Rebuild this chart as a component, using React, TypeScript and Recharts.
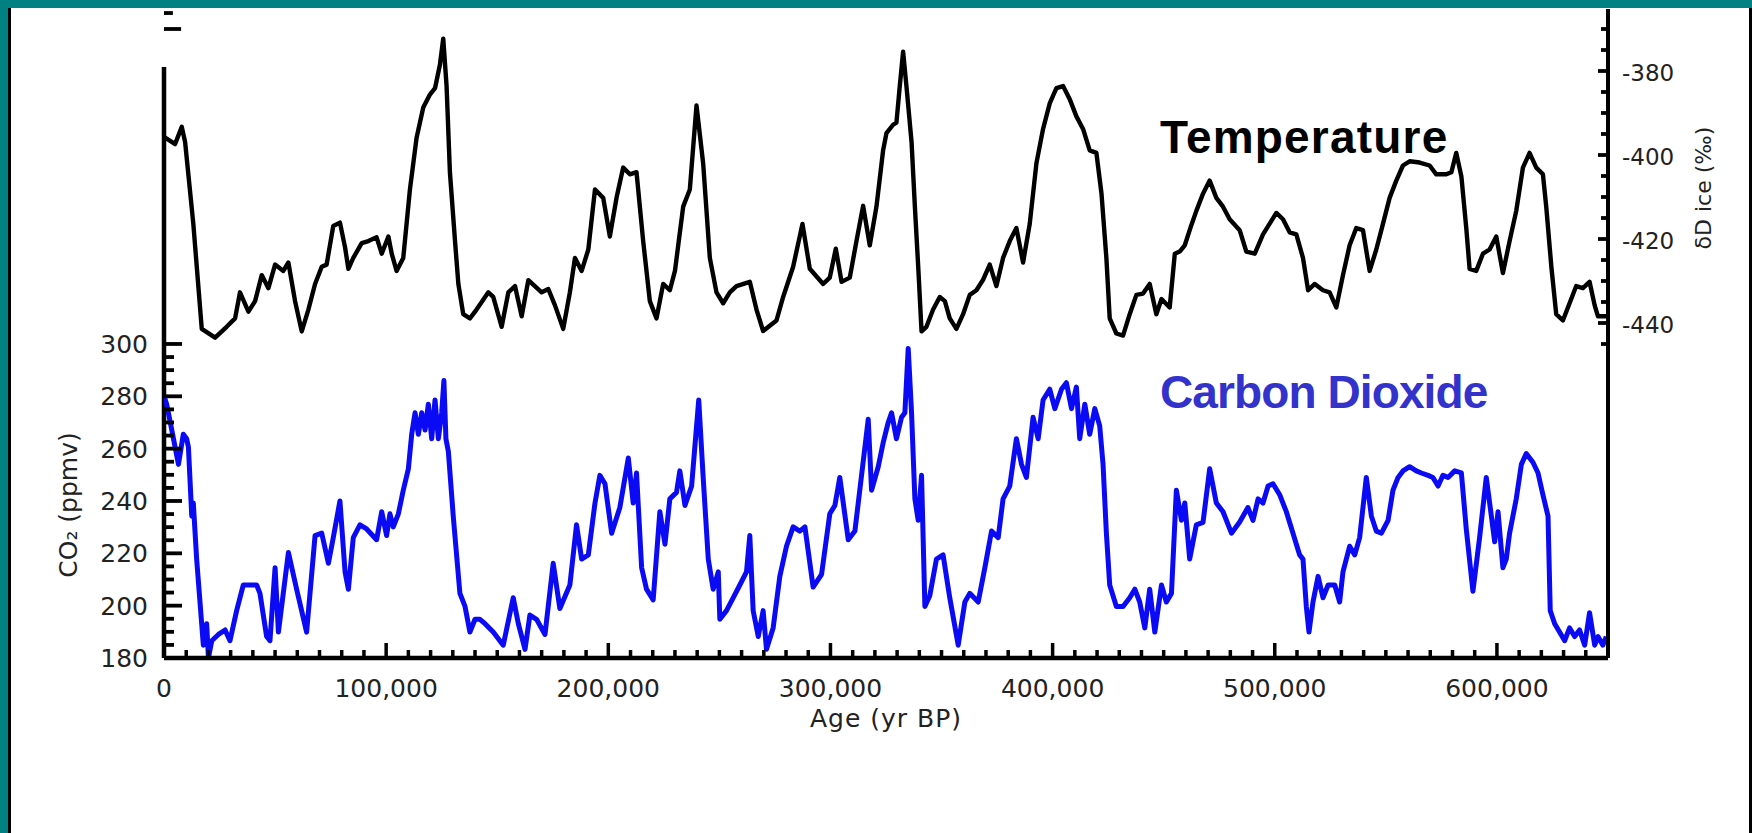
import { LineChart, Line, XAxis, YAxis, ReferenceLine } from 'recharts';

// δD of ice (temperature proxy)
const tempAge = [
	0, 5000, 8000, 9500, 13200, 17000, 23000, 28200, 32000, 34200, 38000, 41000, 44000, 47000, 50000,
	53700, 56000, 59000, 62000, 65000, 68000, 71000, 73200, 76200, 79200, 81500, 83000, 85200, 89000,
	92000, 95700, 98000, 101000, 102500, 104700, 107700, 110700, 113700, 116700, 119700, 122000, 124200,
	125700, 127200, 128700, 131000, 132500, 134700, 137700, 140700, 146000, 148200, 152000, 155000,
	158000, 161000, 164000, 170000, 173000, 176000, 179700, 182700, 185000, 188000, 191000, 194000,
	197700, 200700, 203700, 206700, 209700, 212700, 215700, 218700, 221700, 224700, 227700, 230000,
	233700, 236700, 239700, 242700, 245700, 248700, 251700, 254700, 257700, 263700, 266700, 269700,
	275700, 278700, 283200, 287400, 290700, 296700, 299700, 302400, 305000, 308700, 311700, 314700,
	317700, 320700, 323700, 325200, 328200, 329700, 331200, 332700, 334200, 336500, 338000, 339500,
	341000, 343200, 346200, 349200, 351500, 353700, 356700, 359700, 362700, 365700, 368700, 371700,
	374700, 377700, 380700, 383700, 386700, 389700, 392700, 395700, 398700, 401700, 404700, 407700,
	410700, 413700, 416700, 419700, 422000, 424200, 425700, 428700, 431700, 434700, 437700, 440700,
	443700, 446700, 449000, 452700, 455000, 457200, 459500, 462000, 464700, 467700, 470700, 473700,
	476700, 479700, 484200, 487200, 491000, 494700, 500700, 503700, 506700, 509700, 512700, 515000,
	518000, 521700, 524700, 527700, 530700, 533700, 536700, 539700, 542700, 545700, 548700, 551700,
	554700, 557700, 560700, 565200, 569700, 572700, 577200, 579500, 581700, 584000, 586200, 587700,
	590700, 593700, 596700, 599700, 602700, 605700, 608700, 611700, 614700, 617700, 620700, 622200,
	624500, 626700, 629700, 632700, 635700, 638700, 641700, 644000, 645500, 649200,
];
const tempDelta = [
	-395.7, -397.4, -393.3, -396.9, -416.4, -441.4, -443.5, -440.9, -438.9, -432.7, -437.3, -434.8,
	-428.6, -431.7, -426.1, -427.6, -425.6, -434.8, -442.0, -436.8, -430.7, -426.6, -426.1, -416.9,
	-416.1, -422.0, -427.1, -424.5, -421.0, -420.5, -419.6, -423.5, -419.4, -423.5, -427.6, -424.5,
	-408.2, -395.9, -388.7, -385.6, -384.1, -378.5, -372.3, -383.6, -404.1, -420.5, -430.7, -437.9,
	-438.9, -436.8, -432.7, -433.8, -440.9, -432.7, -431.2, -438.4, -429.8, -432.7, -431.9, -435.8,
	-441.4, -432.7, -424.5, -427.6, -422.5, -408.2, -410.2, -419.4, -410.2, -403.0, -404.6, -404.1,
	-420.5, -434.8, -438.9, -430.7, -432.2, -427.6, -412.3, -408.2, -388.2, -402.0, -424.5, -432.7,
	-435.3, -432.7, -431.2, -430.2, -436.8, -441.9, -439.4, -433.8, -426.6, -416.4, -427.1, -430.7,
	-429.2, -422.3, -430.2, -429.2, -420.5, -412.1, -421.5, -412.3, -398.9, -394.8, -392.8, -392.3,
	-383.6, -375.4, -383.6, -396.9, -412.3, -426.6, -442.0, -440.9, -436.8, -433.8, -434.8, -438.9,
	-441.4, -437.9, -433.3, -432.2, -429.7, -426.1, -431.2, -424.5, -420.5, -417.4, -425.6, -416.4,
	-402.0, -393.8, -387.7, -384.1, -383.6, -386.7, -390.8, -393.8, -398.9, -399.5, -409.2, -424.5,
	-438.9, -442.5, -443.0, -437.9, -433.3, -433.0, -430.7, -437.9, -434.3, -436.3, -423.5, -423.0,
	-421.5, -417.4, -413.3, -409.2, -406.1, -410.2, -412.3, -415.3, -417.9, -423.0, -423.5, -418.9,
	-413.8, -415.3, -418.4, -418.9, -424.5, -432.2, -430.7, -432.2, -432.7, -436.3, -428.6, -421.5,
	-417.4, -417.9, -427.6, -422.5, -416.4, -410.2, -406.1, -402.5, -401.5, -401.8, -402.5, -404.6,
	-404.6, -404.1, -399.5, -405.1, -417.4, -427.1, -427.6, -423.5, -422.5, -419.4, -428.1, -420.5,
	-413.3, -403.0, -399.5, -403.0, -404.6, -412.3, -426.6, -437.9, -439.4, -435.3, -431.2, -431.7,
	-430.2, -435.8, -438.4, -438.4,
];

// CO2 (ppmv)
const co2Age = [
	0, 1200, 3500, 6500, 8700, 10200, 11000, 12500, 13200, 14700, 16200, 17700, 19200, 20000, 21500,
	24500, 27500, 29700, 32700, 35700, 41700, 43200, 46200, 47700, 50000, 51500, 56000, 59700, 64200,
	68000, 71000, 74000, 76200, 79200, 81500, 83000, 85200, 88200, 91200, 95700, 98000, 100200, 101700,
	103200, 105500, 107700, 110000, 111500, 113000, 114500, 116000, 117500, 119000, 120500, 122000,
	123500, 125000, 126000, 126900, 128000, 130200, 133200, 135500, 137700, 140000, 142200, 144500,
	148200, 152700, 157200, 159500, 162500, 164700, 167700, 171500, 175200, 178200, 182700, 185700,
	188000, 191000, 194000, 196200, 198500, 201500, 205200, 209000, 211200, 212700, 215000, 217200,
	220200, 223200, 225500, 227700, 230700, 232200, 234500, 237500, 240700, 242700, 245000, 247200,
	249500, 250200, 253200, 256200, 259200, 262200, 263700, 265200, 267500, 269700, 271200, 274200,
	277200, 280200, 283200, 286200, 288500, 292200, 296000, 299700, 302000, 304200, 308000, 311000,
	314700, 317000, 318500, 321500, 323700, 326000, 327500, 329700, 332000, 333500, 335000, 336500,
	338000, 339500, 341000, 342500, 344700, 347700, 350700, 353700, 357500, 360500, 362700, 366500,
	369500, 372500, 375500, 377700, 380700, 383700, 386000, 388200, 391200, 393500, 395700, 398700,
	401000, 404000, 406200, 408500, 410700, 412200, 414500, 416700, 419000, 421200, 422700, 424200,
	425700, 428700, 431700, 434700, 437000, 439200, 441500, 443700, 446000, 449000, 451200, 453500,
	455700, 458000, 459500, 461700, 464700, 467700, 470700, 473700, 476700, 480500, 484200, 487900,
	490200, 492500, 494700, 497000, 499200, 502200, 505200, 508200, 511200, 512700, 514200, 515400,
	517200, 519500, 521700, 524000, 527000, 529200, 530700, 533700, 536000, 538200, 541200, 543500,
	545700, 548000, 551000, 553200, 555500, 557700, 560700, 563700, 566000, 569000, 571200, 573500,
	575700, 578000, 581000, 584000, 586200, 589200, 592200, 595200, 597500, 599000, 600500, 602700,
	604200, 605700, 608700, 611000, 613200, 616200, 618500, 620700, 623000, 624000, 626000, 628200,
	630500, 632700, 635000, 637200, 639500, 641700, 644000, 645500, 647700, 649200,
];
const co2Ppmv = [
	280.2, 277.0, 267.1, 254.0, 265.5, 263.8, 260.5, 234.2, 239.2, 217.8, 201.4, 184.9, 193.1, 180.0,
	186.6, 189.0, 190.7, 186.6, 198.1, 207.9, 207.9, 204.7, 188.2, 186.6, 214.5, 189.9, 220.3, 206.3,
	189.9, 226.8, 227.7, 216.2, 226.0, 240.0, 212.9, 206.3, 226.0, 230.9, 229.3, 225.2, 235.9, 226.8,
	235.1, 230.1, 235.1, 244.1, 252.3, 265.5, 273.7, 265.5, 273.7, 267.1, 277.0, 263.8, 278.6, 263.8,
	273.7, 286.0, 263.8, 258.9, 234.2, 204.7, 199.7, 189.9, 194.8, 194.8, 193.1, 189.9, 184.9, 203.0,
	193.1, 183.3, 196.4, 194.8, 189.0, 216.2, 198.9, 207.9, 230.9, 217.8, 219.4, 239.2, 249.8, 246.6,
	227.7, 237.5, 256.4, 239.2, 250.7, 214.5, 206.3, 202.2, 235.9, 223.5, 240.8, 243.3, 251.5, 238.3,
	245.7, 278.6, 249.0, 217.8, 206.3, 212.9, 194.8, 198.1, 203.0, 207.9, 212.9, 226.8, 198.1, 188.2,
	198.1, 183.3, 191.5, 211.2, 222.7, 230.1, 228.5, 230.1, 207.1, 212.0, 235.1, 238.3, 249.0, 225.2,
	228.5, 254.8, 271.2, 244.1, 253.1, 262.2, 270.0, 273.7, 263.8, 272.0, 273.7, 298.3, 273.7, 240.8,
	232.6, 249.8, 199.7, 203.8, 217.8, 219.4, 203.0, 184.9, 201.4, 204.7, 201.4, 214.5, 228.5, 226.0,
	240.8, 245.7, 263.8, 254.0, 249.0, 272.0, 263.8, 278.6, 282.7, 275.3, 282.7, 285.2, 275.3, 283.5,
	263.8, 277.0, 265.5, 275.3, 268.7, 254.0, 227.7, 207.9, 199.7, 199.7, 203.0, 206.3, 201.4, 191.5,
	206.3, 189.9, 207.9, 201.4, 204.7, 244.1, 232.6, 239.2, 217.8, 230.9, 231.8, 252.3, 239.2, 235.9,
	227.7, 232.0, 237.5, 232.6, 240.8, 239.2, 245.7, 246.6, 242.4, 235.9, 227.7, 219.4, 217.8, 199.7,
	189.9, 201.4, 211.2, 203.0, 207.9, 207.9, 201.4, 212.9, 222.7, 219.4, 226.0, 249.0, 234.2, 228.5,
	227.7, 232.6, 244.1, 249.0, 251.5, 253.1, 251.5, 250.7, 249.8, 249.0, 245.7, 249.8, 249.0, 251.5,
	250.7, 229.3, 205.5, 226.0, 249.0, 234.2, 224.4, 235.9, 214.5, 217.8, 227.7, 240.8, 254.0, 258.1,
	254.8, 250.7, 242.4, 234.2, 198.1, 193.1, 189.9, 186.6, 191.5, 188.2, 190.7, 184.9, 197.3, 184.9,
	188.2, 184.9, 188.2,
];

const xMajorTicks = [0, 100000, 200000, 300000, 400000, 500000, 600000];
const co2Labels = [180, 200, 220, 240, 260, 280, 300];
const deltaLabels = [-440, -420, -400, -380];

const tempData = tempAge.map((age, i) => ({ age, delta: tempDelta[i] }));
const co2Data = co2Age.map((age, i) => ({ age, co2: co2Ppmv[i] }));

// minor ticks: every 10,000 yr and every 5 units
const xTicks: number[] = [];
for (let v = 0; v <= 640000; v += 10000) xTicks.push(v);
const co2Ticks: number[] = [];
for (let v = 180; v <= 300; v += 5) co2Ticks.push(v);
const deltaTicks: number[] = [];
for (let v = -445; v <= -370; v += 5) deltaTicks.push(v);

const labelFont = { fontFamily: 'DejaVu Sans', fill: '#222' };

function renderAgeTick(props: any) {
	const { x, y, payload } = props;
	const major = xMajorTicks.includes(payload.value);
	return (
		<g>
			<line x1={x} x2={x} y1={y} y2={y - (major ? 15 : 8)} stroke="#000" strokeWidth={3.5} />
			{major && (
				<text x={x} y={y + 39} textAnchor="middle" fontSize={25} {...labelFont}>
					{payload.value.toLocaleString('en-US')}
				</text>
			)}
		</g>
	);
}

function renderCo2Tick(props: any) {
	const { x, y, payload } = props;
	const major = co2Labels.includes(payload.value);
	return (
		<g>
			<line x1={x} x2={x + (major ? 18 : 10)} y1={y} y2={y} stroke="#000" strokeWidth={3.8} />
			{major && (
				<text x={x - 16} y={y + 9} textAnchor="end" fontSize={25} {...labelFont}>
					{payload.value}
				</text>
			)}
		</g>
	);
}

function renderDeltaTick(props: any) {
	const { x, y, payload } = props;
	const major = deltaLabels.includes(payload.value);
	return (
		<g>
			<line x1={x} x2={x - (major ? 10 : 7)} y1={y} y2={y} stroke="#000" strokeWidth={3.8} />
			{major && (
				<text x={x + 14} y={y + 10} textAnchor="start" fontSize={23} {...labelFont}>
					{'-' + Math.abs(payload.value)}
				</text>
			)}
		</g>
	);
}

export default function App() {
	return (
		<div
			style={{
				position: 'absolute',
				left: 0,
				top: 0,
				width: 1752,
				height: 833,
				background: '#008080',
				overflow: 'hidden',
			}}
		>
			<div
				style={{
					position: 'absolute',
					left: 8,
					top: 8,
					width: 1744,
					height: 825,
					background: '#fff',
					borderLeft: '3px solid #000',
					borderRight: '3px solid #000',
					boxSizing: 'border-box',
				}}
			/>
			<div style={{ position: 'absolute', left: 0, top: 0 }}>
				<LineChart width={1752} height={833} margin={{ top: 9, right: 0, left: 14, bottom: 75 }}>
					<XAxis
						type="number"
						dataKey="age"
						domain={[0, 650000]}
						allowDataOverflow
						ticks={xTicks}
						interval={0}
						tickSize={0}
						tickMargin={0}
						tickLine={false}
						axisLine={{ stroke: '#000', strokeWidth: 4.5 }}
						tick={renderAgeTick}
						height={100}
					/>
					<YAxis
						yAxisId="co2"
						orientation="left"
						type="number"
						domain={[180, 428]}
						allowDataOverflow
						ticks={co2Ticks}
						interval={0}
						tickSize={0}
						tickMargin={0}
						tickLine={false}
						axisLine={false}
						tick={renderCo2Tick}
						width={150}
					/>
					<YAxis
						yAxisId="temp"
						orientation="right"
						type="number"
						domain={[-519.76, -365.24]}
						allowDataOverflow
						ticks={deltaTicks}
						interval={0}
						tickSize={0}
						tickMargin={0}
						tickLine={false}
						axisLine={{ stroke: '#000', strokeWidth: 4 }}
						tick={renderDeltaTick}
						width={144}
					/>
					{/* left axis spine only runs up to the cropped panel edge */}
					<ReferenceLine
						yAxisId="co2"
						segment={[
							{ x: 0, y: 180 },
							{ x: 0, y: 405.8 },
						]}
						stroke="#000"
						strokeWidth={4.5}
					/>
					{/* leftover ticks of the upper panel */}
					<ReferenceLine
						yAxisId="temp"
						segment={[
							{ x: 0, y: -366.2 },
							{ x: 4000, y: -366.2 },
						]}
						stroke="#000"
						strokeWidth={3.8}
					/>
					<ReferenceLine
						yAxisId="temp"
						segment={[
							{ x: 0, y: -370 },
							{ x: 7700, y: -370 },
						]}
						stroke="#000"
						strokeWidth={3.8}
					/>
					<Line
						yAxisId="temp"
						data={tempData}
						dataKey="delta"
						type="linear"
						stroke="#000"
						strokeWidth={4.4}
						strokeLinejoin="round"
						dot={false}
						isAnimationActive={false}
					/>
					<Line
						yAxisId="co2"
						data={co2Data}
						dataKey="co2"
						type="linear"
						stroke="#0a0af5"
						strokeWidth={5}
						strokeLinejoin="round"
						dot={false}
						isAnimationActive={false}
					/>
				</LineChart>
			</div>
			<svg
				width={1752}
				height={833}
				style={{ position: 'absolute', left: 0, top: 0, pointerEvents: 'none' }}
			>
				<text
					x={1160}
					y={153}
					fontFamily="Liberation Sans"
					fontWeight="bold"
					fontSize={46}
					letterSpacing={1.2}
					fill="#000"
				>
					Temperature
				</text>
				<text
					x={1160}
					y={408}
					fontFamily="Liberation Sans"
					fontWeight="bold"
					fontSize={46}
					letterSpacing={-0.9}
					fill="#3333cc"
				>
					Carbon Dioxide
				</text>
				<text
					x={886}
					y={727}
					textAnchor="middle"
					fontSize={25}
					letterSpacing={1}
					{...labelFont}
				>
					Age (yr BP)
				</text>
				<text
					transform="translate(68, 505) rotate(-90)"
					textAnchor="middle"
					dominantBaseline="central"
					fontSize={25}
					{...labelFont}
				>
					CO₂ (ppmv)
				</text>
				<text
					transform="translate(1703, 188) rotate(-90)"
					textAnchor="middle"
					dominantBaseline="central"
					fontSize={22}
					{...labelFont}
				>
					δD ice (‰)
				</text>
			</svg>
		</div>
	);
}
